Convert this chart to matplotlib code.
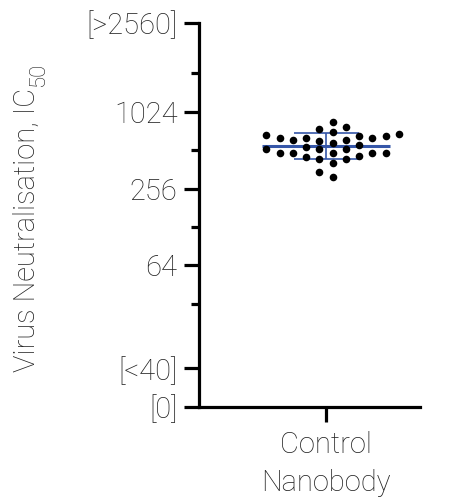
import matplotlib
matplotlib.use('Agg')
import matplotlib.pyplot as plt
import numpy as np

# data (IC50 titres, one dot each)
category = "Control\nNanobody"
titers = [642, 485, 642, 563, 485, 751, 617, 521, 435, 847, 617, 485,
          783, 662, 485, 405, 315, 674, 521, 452, 347, 715, 609, 521, 438,
          642, 546, 465, 666, 683, 587, 485]
tick_values = [5, 10, 64, 256, 1024, 5120]
tick_labels = ['[0]', '[<40]', '64', '256', '1024', '[>2560]']
minor_values = [32, 128, 512, 2048]
ylabel_main = 'Virus Neutralisation, IC'
ylabel_sub = '50'

TEXT = '#222222'
BLUE = '#3556a8'
FONT = 'Roboto'
FS = 21

plt.rcParams['font.family'] = FONT
plt.rcParams['font.weight'] = 'light'


def swarm_offsets(values, step, min_gap):
    """Greedy column swarm: each dot goes to the nearest free column."""
    logs = np.log2(values)
    slots = [0.5, -0.5, 1.5, -1.5, 2.5, -2.5, 3.5, -3.5, 4.5, -4.5, 5.5, -5.5]
    placed = []
    offsets = np.zeros(len(values))
    for i in np.argsort(logs):
        for s in slots:
            if all(abs(logs[i] - l) >= min_gap for c, l in placed if c == s):
                placed.append((s, logs[i]))
                offsets[i] = s * step
                break
    return offsets


fig = plt.figure(figsize=(4.52, 4.97), dpi=100)
W, H = 452, 497
ax = fig.add_axes([199 / W, 1 - 406.7 / H, (420 - 199) / W, (406.7 - 22.7) / H])

step = 0.12
xs = swarm_offsets(titers, step, 0.22)
ax.scatter(xs, titers, s=30, color='black', zorder=3, linewidths=0)

# geometric mean +/- geometric SD
logs = np.log2(titers)
gm = 2 ** logs.mean()
gsd_lo = 2 ** (logs.mean() - logs.std(ddof=1))
gsd_hi = 2 ** (logs.mean() + logs.std(ddof=1))
ax.hlines(gm, -4.8 * step, 4.8 * step, color=BLUE, lw=2.2, zorder=2)
ax.hlines([gsd_lo, gsd_hi], -2.45 * step, 2.45 * step, color=BLUE, lw=1.2, zorder=2)
ax.vlines(0, gsd_lo, gsd_hi, color=BLUE, lw=1.2, zorder=2)

ax.set_yscale('log', base=2)
ax.set_ylim(5, 5120)
ax.set_xlim(-1.15, 0.85)
ax.set_yticks(tick_values)
ax.set_yticklabels(tick_labels)
ax.set_yticks(minor_values, minor=True)
ax.yaxis.set_minor_formatter(matplotlib.ticker.NullFormatter())
ax.set_xticks([0])
ax.set_xticklabels([category], linespacing=1.45)

for side in ['top', 'right']:
    ax.spines[side].set_visible(False)
for side in ['left', 'bottom']:
    ax.spines[side].set_linewidth(2.3)

ax.tick_params(axis='y', which='major', length=10.5, width=2.3, pad=5,
               labelsize=FS, labelcolor=TEXT)
ax.tick_params(axis='y', which='minor', length=5.5, width=2.3)
ax.tick_params(axis='x', length=10.5, width=2.3, pad=7,
               labelsize=FS, labelcolor=TEXT)

# y label drawn as two texts so the subscript keeps the light weight
main = fig.text(27 / W, 1 - 230 / H, ylabel_main, rotation=90, fontsize=FS,
                color=TEXT, ha='center', va='center')
fig.canvas.draw()
bb = main.get_window_extent()
fig.text((bb.x1 - 13) / W, (bb.y1 + 1) / H, ylabel_sub, rotation=90,
         fontsize=16, color=TEXT, ha='left', va='bottom')

fig.savefig('out.png', dpi=100, facecolor='white')
